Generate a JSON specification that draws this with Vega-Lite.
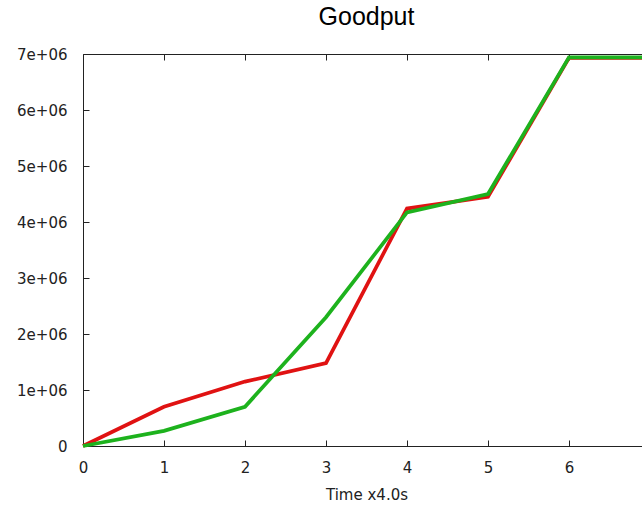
{
  "$schema": "https://vega.github.io/schema/vega-lite/v6.json",
  "width": 567,
  "height": 392,
  "autosize": {"type": "none"},
  "padding": {"left": 83, "top": 54, "right": 0, "bottom": 61},
  "background": "white",
  "title": {"text": "Goodput", "font": "Liberation Sans", "fontSize": 25, "fontWeight": "normal", "color": "#000", "anchor": "middle", "baseline": "alphabetic", "offset": -3},
  "config": {
    "view": {"stroke": null},
    "axis": {
      "domainColor": "#222", "tickColor": "#222", "grid": false,
      "labelFont": "DejaVu Sans", "labelFontSize": 15, "labelColor": "#222",
      "titleFont": "DejaVu Sans", "titleFontSize": 15, "titleFontWeight": "normal", "titleColor": "#222",
      "tickSize": -6
    }
  },
  "data": {"values": [
    {"s": "s1", "t": 0, "v": 0},
    {"s": "s1", "t": 1, "v": 700000},
    {"s": "s1", "t": 2, "v": 1150000},
    {"s": "s1", "t": 3, "v": 1480000},
    {"s": "s1", "t": 4, "v": 4240000},
    {"s": "s1", "t": 5, "v": 4450000},
    {"s": "s1", "t": 6, "v": 6930000},
    {"s": "s1", "t": 7, "v": 6930000},
    {"s": "s2", "t": 0, "v": 0},
    {"s": "s2", "t": 1, "v": 270000},
    {"s": "s2", "t": 2, "v": 700000},
    {"s": "s2", "t": 3, "v": 2300000},
    {"s": "s2", "t": 4, "v": 4170000},
    {"s": "s2", "t": 5, "v": 4500000},
    {"s": "s2", "t": 6, "v": 6940000},
    {"s": "s2", "t": 7, "v": 6940000}
  ]},
  "layer": [
    {
      "mark": {"type": "line", "strokeWidth": 3.7},
      "encoding": {
        "x": {"field": "t", "type": "quantitative", "scale": {"domain": [0, 7], "nice": false},
              "axis": {"orient": "bottom", "values": [0, 1, 2, 3, 4, 5, 6], "format": "d", "labelFlush": false, "title": "Time x4.0s", "labelPadding": 20, "titlePadding": 12}},
        "y": {"field": "v", "type": "quantitative", "scale": {"domain": [0, 7000000], "nice": false},
              "axis": {"orient": "left", "values": [0, 1000000, 2000000, 3000000, 4000000, 5000000, 6000000, 7000000], "labelExpr": "datum.value == 0 ? '0' : (datum.value / 1000000) + 'e+06'", "title": null, "labelPadding": 22}},
        "color": {"field": "s", "type": "nominal", "scale": {"domain": ["s1", "s2"], "range": ["#e01212", "#1db21d"]}, "legend": null}
      }
    },
    {
      "mark": {"type": "line", "opacity": 0},
      "encoding": {
        "x": {"field": "t", "type": "quantitative", "scale": {"domain": [0, 7], "nice": false},
              "axis": {"orient": "top", "values": [0, 1, 2, 3, 4, 5, 6, 7], "labels": false, "title": null}},
        "y": {"field": "v", "type": "quantitative", "scale": {"domain": [0, 7000000], "nice": false},
              "axis": {"orient": "right", "values": [0, 1000000, 2000000, 3000000, 4000000, 5000000, 6000000, 7000000], "labels": false, "title": null}},
        "detail": {"field": "s"}
      }
    }
  ],
  "resolve": {"axis": {"x": "independent", "y": "independent"}}
}
